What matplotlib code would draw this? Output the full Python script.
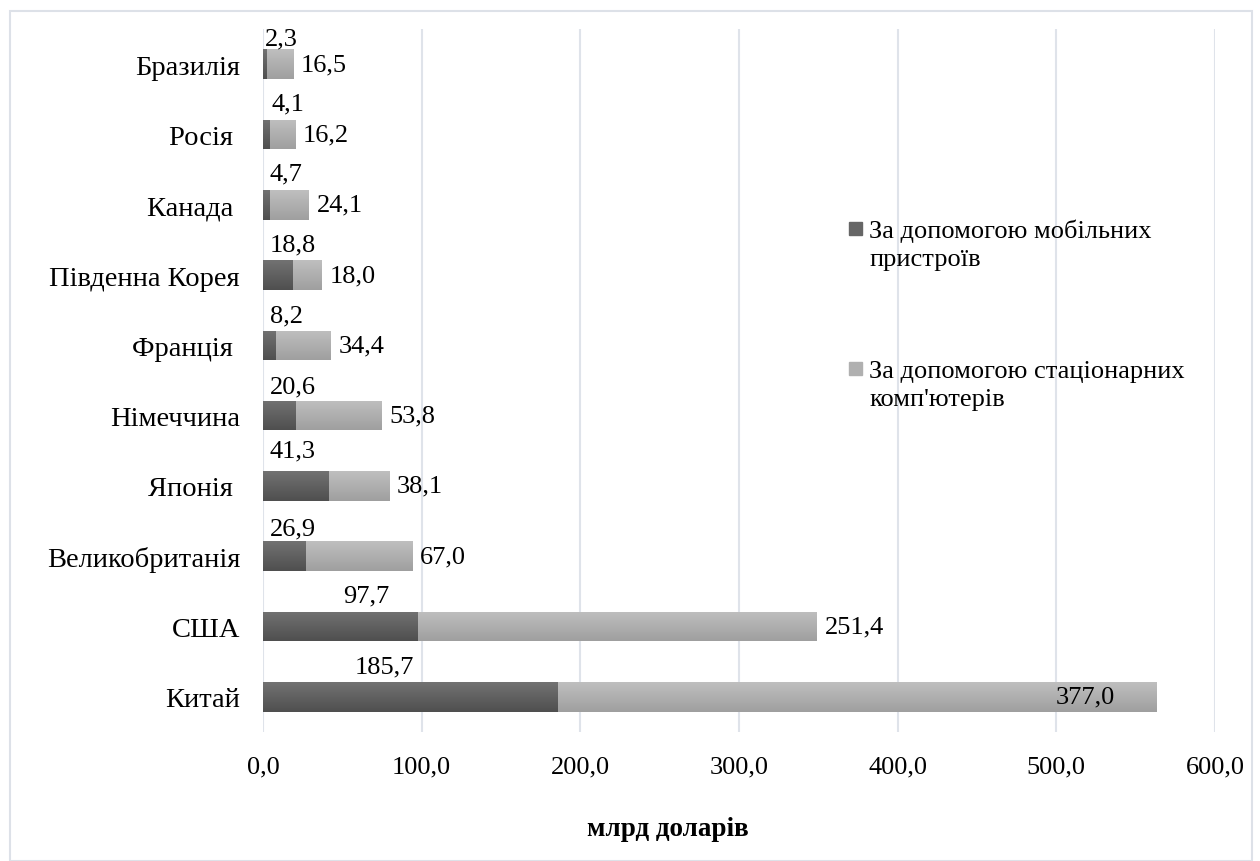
import matplotlib
matplotlib.use("Agg")
import matplotlib.pyplot as plt
import numpy as np
from matplotlib.patches import Rectangle
from matplotlib.colors import LinearSegmentedColormap

plt.rcParams['font.family'] = ['Liberation Serif', 'DejaVu Serif']

# ---- data (bottom to top) ----
countries = ["Китай", "США", "Великобританія", "Японія ", "Німеччина",
             "Франція ", "Південна Корея", "Канада ", "Росія ", "Бразилія"]
mobile = [185.7, 97.7, 26.9, 41.3, 20.6, 8.2, 18.8, 4.7, 4.1, 2.3]
desktop = [377.0, 251.4, 67.0, 38.1, 53.8, 34.4, 18.0, 24.1, 16.2, 16.5]
series_names = ["За допомогою мобільних\nпристроїв",
                "За допомогою стаціонарних\nкомп'ютерів"]
xticks = [0, 100, 200, 300, 400, 500, 600]
xlabel = "млрд доларів"

# label anchors for the mobile labels (data units, left edge of the text)
mobile_label_x = [58, 50.5, 4.4, 4.4, 4.4, 4.4, 4.4, 4.4, 5.5, 1.3]
mobile_label_dy = [0.43, 0.44, 0.40, 0.50, 0.42, 0.43, 0.43, 0.44, 0.44, 0.36]

fmt = lambda v: f"{v:.1f}".replace(".", ",")

W, H = 1260, 862
fig = plt.figure(figsize=(W / 100, H / 100), dpi=100)
ax = fig.add_axes([263 / W, 1 - 733 / H, (1215 - 263) / W, (733 - 30) / H])

y = np.arange(len(countries))
bh = 0.42
dark_cmap = LinearSegmentedColormap.from_list("d", ["#4f4f4f", "#727272"])
light_cmap = LinearSegmentedColormap.from_list("l", ["#9f9f9f", "#bfbfbf"])
b1 = ax.barh(y, mobile, height=bh, color="#606060", zorder=2)
b2 = ax.barh(y, desktop, left=mobile, height=bh, color="#b0b0b0", zorder=2)

grad = np.linspace(0, 1, 64).reshape(-1, 1)
for bars, cm in ((b1, dark_cmap), (b2, light_cmap)):
    for p in bars:
        x0, y0 = p.get_x(), p.get_y()
        w, h = p.get_width(), p.get_height()
        im = ax.imshow(grad, extent=(x0, x0 + w, y0, y0 + h), origin="lower",
                       aspect="auto", cmap=cm, zorder=3, interpolation="bilinear")
        im.set_clip_path(p)

ax.set_xlim(0, 600)
ax.set_ylim(-0.5, len(countries) - 0.5)
ax.set_xticks(xticks)
ax.set_xticklabels([fmt(t) for t in xticks], fontsize=19)
ax.set_yticks(y)
ax.set_yticklabels(countries, fontsize=20.5)
ax.tick_params(axis="y", length=0, pad=16.5)
ax.tick_params(axis="x", length=0, pad=17)
for s in ax.spines.values():
    s.set_visible(False)
ax.grid(axis="x", color="#dfe3ea", linewidth=1.5, zorder=0)
ax.set_axisbelow(True)

# data labels
for i in range(len(countries)):
    ax.text(mobile_label_x[i], y[i] + mobile_label_dy[i], fmt(mobile[i]),
            ha="left", va="center", fontsize=19, zorder=5)
    end = mobile[i] + desktop[i]
    if end > 500:
        ax.text(end - 26, y[i], fmt(desktop[i]), ha="right", va="center",
                fontsize=19, zorder=5)
    else:
        ax.text(end + 5, y[i], fmt(desktop[i]), ha="left", va="center",
                fontsize=19, zorder=5)

# axis title
fig.text(668 / W, 1 - 830 / H, xlabel, ha="center", va="center",
         fontsize=19.5, fontweight="bold")

# legend (manual, marker aligned with first line)
leg_colors = ["#666666", "#b0b0b0"]
leg_baseline = [238, 378]
for name, c, bl in zip(series_names, leg_colors, leg_baseline):
    fig.patches.append(Rectangle((849 / W, 1 - (bl - 2) / H), 13 / W, 13 / H,
                                 transform=fig.transFigure, color=c))
    for k, line in enumerate(name.split("\n")):
        fig.text(869 / W, 1 - (bl + 28 * k) / H, line, ha="left",
                 va="baseline", fontsize=19)

# outer border
fig.patches.append(Rectangle((10 / W, 0), (1252 - 10) / W, 1 - 12 / H,
                             transform=fig.transFigure, fill=False,
                             edgecolor="#dde1e8", linewidth=1.5))

fig.savefig("out.png", dpi=100)
